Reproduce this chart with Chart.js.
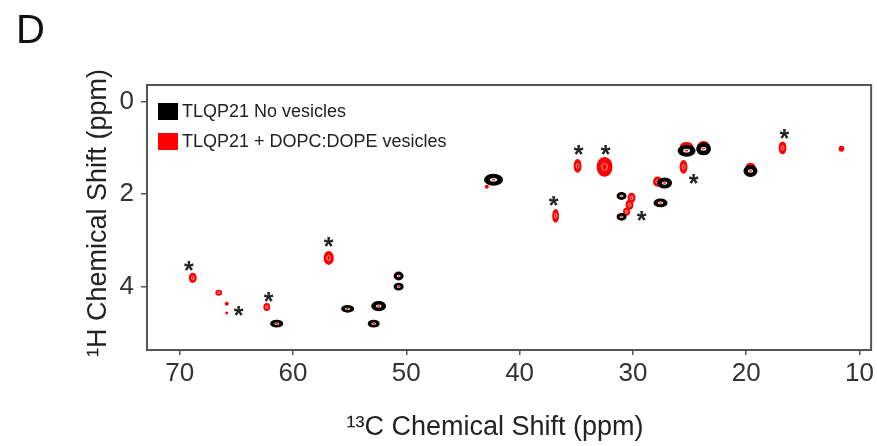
<!DOCTYPE html>
<html>
<head>
<meta charset="utf-8">
<script src="https://cdn.jsdelivr.net/npm/chart.js@4.4.0/dist/chart.umd.min.js"></script>
<style>
  body { margin: 0; background: #fff; }
  canvas { display: block; }
</style>
</head>
<body>
<canvas id="nmr" width="877" height="446"></canvas>
<script>
const seriesNames = ["TLQP21 No vesicles", "TLQP21 + DOPC:DOPE vesicles"];
const xTicks = [70, 60, 50, 40, 30, 20, 10];
const yTicks = [0, 2, 4];

// no vesicles (black) - 13C shift, 1H shift, peak widths (ppm)
const blackC = [42.3, 31.0, 31.0, 27.2, 27.56, 25.26, 23.76, 19.62, 61.44, 55.18, 52.44, 52.88, 50.68, 50.68];
const blackH = [1.69, 2.04, 2.49, 1.76, 2.19, 1.06, 1.02, 1.5, 4.8, 4.48, 4.42, 4.8, 3.77, 4.0];
const blackWC = [1.68, 0.88, 0.88, 1.32, 1.24, 1.59, 1.32, 1.24, 1.15, 1.15, 1.32, 1.06, 0.88, 0.88];
const blackWH = [0.26, 0.17, 0.17, 0.24, 0.19, 0.26, 0.28, 0.26, 0.17, 0.17, 0.22, 0.17, 0.19, 0.17];

// + DOPC:DOPE vesicles (red)
const redC = [42.9, 42.4, 34.88, 32.5, 36.82, 30.12, 30.3, 30.56, 27.82, 25.53, 25.26, 23.76, 19.62, 16.79, 11.59, 68.85, 66.56, 65.85, 65.85, 62.32, 56.85];
const redH = [1.84, 1.68, 1.39, 1.41, 2.47, 2.08, 2.23, 2.38, 1.73, 1.41, 0.98, 0.96, 1.43, 1.0, 1.02, 3.81, 4.13, 4.37, 4.57, 4.44, 3.38];
const redWC = [0.35, 1.4, 0.7, 1.4, 0.6, 0.7, 0.7, 0.62, 0.8, 0.7, 1.2, 1.05, 0.9, 0.7, 0.5, 0.7, 0.6, 0.35, 0.26, 0.6, 0.9];
const redWH = [0.09, 0.22, 0.3, 0.43, 0.3, 0.22, 0.22, 0.17, 0.22, 0.3, 0.22, 0.22, 0.22, 0.28, 0.13, 0.22, 0.13, 0.09, 0.065, 0.17, 0.3];

// asterisks marking shifted peaks
const starC = [69.2, 64.8, 62.15, 56.85, 37.0, 34.8, 32.4, 29.24, 24.65, 16.62];
const starH = [3.51, 4.48, 4.18, 2.99, 2.1, 1.0, 1.0, 2.43, 1.63, 0.65];

const axisColor = "#555";
const font = "'Liberation Sans', Arial, sans-serif";

function toPoints(xs, ys) {
  return xs.map((x, i) => ({ x: x, y: ys[i] }));
}

function ellipse(ctx, x, y, rx, ry, fill) {
  ctx.beginPath();
  ctx.ellipse(x, y, Math.max(rx, 0.6), Math.max(ry, 0.6), 0, 0, Math.PI * 2);
  ctx.fillStyle = fill;
  ctx.fill();
}

// draws the contour-like blobs at the points placed by the scales
const peaksPlugin = {
  id: "peaks",
  afterDatasetsDraw(chart) {
    const ctx = chart.ctx;
    const xs = chart.scales.x;
    const ys = chart.scales.y;
    const area = chart.chartArea;
    ctx.save();
    ctx.beginPath();
    ctx.rect(area.left, area.top, area.right - area.left, area.bottom - area.top);
    ctx.clip();

    chart.getDatasetMeta(1).data.forEach((pt, i) => {
      const rx = Math.abs(xs.getPixelForValue(redC[i] + redWC[i] / 2) - pt.x);
      const ry = Math.abs(ys.getPixelForValue(redH[i] + redWH[i] / 2) - pt.y);
      ellipse(ctx, pt.x, pt.y, rx, ry, "#ff0000");
      if (rx > 3 && ry > 3) {
        ctx.beginPath();
        ctx.ellipse(pt.x, pt.y, rx * 0.35, ry * 0.35, 0, 0, Math.PI * 2);
        ctx.strokeStyle = "rgba(255,200,200,0.8)";
        ctx.lineWidth = 1;
        ctx.stroke();
      }
    });

    chart.getDatasetMeta(0).data.forEach((pt, i) => {
      const rx = Math.abs(xs.getPixelForValue(blackC[i] + blackWC[i] / 2) - pt.x);
      const ry = Math.abs(ys.getPixelForValue(blackH[i] + blackWH[i] / 2) - pt.y);
      ellipse(ctx, pt.x, pt.y, rx, ry, "#000");
      ellipse(ctx, pt.x, pt.y, rx * 0.38, ry * 0.3, "#fff");
      ellipse(ctx, pt.x, pt.y, Math.min(1.8, rx * 0.25), 0.8, "#f00");
    });

    // asterisks as text glyphs
    ctx.fillStyle = "#222";
    ctx.font = "bold 25px " + font;
    ctx.textAlign = "center";
    ctx.textBaseline = "alphabetic";
    chart.getDatasetMeta(2).data.forEach((pt) => {
      ctx.fillText("*", pt.x, pt.y + 15);
    });
    ctx.restore();
  },
  afterDraw(chart) {
    const ctx = chart.ctx;
    const area = chart.chartArea;
    ctx.save();
    // frame
    ctx.strokeStyle = axisColor;
    ctx.lineWidth = 2;
    ctx.strokeRect(area.left, area.top, area.right - area.left, area.bottom - area.top);

    // legend
    const colors = ["#000", "#ff0000"];
    ctx.font = "18px " + font;
    ctx.textBaseline = "middle";
    seriesNames.forEach((name, i) => {
      const y = area.top + 26 + i * 30;
      ctx.fillStyle = colors[i];
      ctx.fillRect(area.left + 11, y - 8, 20, 17);
      ctx.fillStyle = "#222";
      ctx.fillText(name, area.left + 35, y + 1);
    });

    // panel letter
    ctx.fillStyle = "#111";
    ctx.textBaseline = "alphabetic";
    ctx.font = "40px " + font;
    ctx.fillText("D", 16, 43);

    // axis titles
    ctx.fillStyle = "#222";
    ctx.font = "27px " + font;
    ctx.textAlign = "center";
    ctx.textBaseline = "middle";
    ctx.fillText("\u00b9\u00b3C Chemical Shift (ppm)", 495, 428);
    ctx.translate(99, 213);
    ctx.rotate(-Math.PI / 2);
    ctx.fillText("\u00b9H Chemical Shift (ppm)", 0, 0);
    ctx.restore();
  },
};

const chart = new Chart(document.getElementById("nmr"), {
  type: "scatter",
  data: {
    datasets: [
      {
        label: seriesNames[0],
        data: toPoints(blackC, blackH),
        pointRadius: 0,
        backgroundColor: "#000",
      },
      {
        label: seriesNames[1],
        data: toPoints(redC, redH),
        pointRadius: 0,
        backgroundColor: "#f00",
      },
      {
        label: "shifted",
        data: toPoints(starC, starH),
        pointRadius: 0,
      },
    ],
  },
  options: {
    responsive: false,
    animation: false,
    devicePixelRatio: 1,
    layout: { padding: { top: 85, right: 5, left: 0, bottom: 0 } },
    plugins: {
      legend: { display: false },
      tooltip: { enabled: false },
    },
    scales: {
      x: {
        type: "linear",
        reverse: true,
        min: 8.97,
        max: 72.89,
        afterBuildTicks: (s) => {
          s.ticks = xTicks.map((v) => ({ value: v }));
        },
        afterFit: (s) => {
          s.height = 96;
        },
        grid: {
          display: true,
          drawOnChartArea: false,
          drawTicks: true,
          tickLength: 5,
          color: axisColor,
          lineWidth: 1.5,
        },
        border: { display: true, color: axisColor, width: 2 },
        ticks: {
          color: "#333",
          padding: 3,
          maxRotation: 0,
          font: { family: font, size: 26 },
        },
      },
      y: {
        type: "linear",
        reverse: true,
        min: -0.36,
        max: 5.37,
        afterBuildTicks: (s) => {
          s.ticks = yTicks.map((v) => ({ value: v }));
        },
        afterFit: (s) => {
          s.width = 147;
        },
        grid: {
          display: true,
          drawOnChartArea: false,
          drawTicks: true,
          tickLength: 6,
          color: axisColor,
          lineWidth: 1.5,
        },
        border: { display: true, color: axisColor, width: 2 },
        ticks: {
          color: "#333",
          padding: 7,
          font: { family: font, size: 26 },
        },
      },
    },
  },
  plugins: [peaksPlugin],
});
</script>
</body>
</html>
